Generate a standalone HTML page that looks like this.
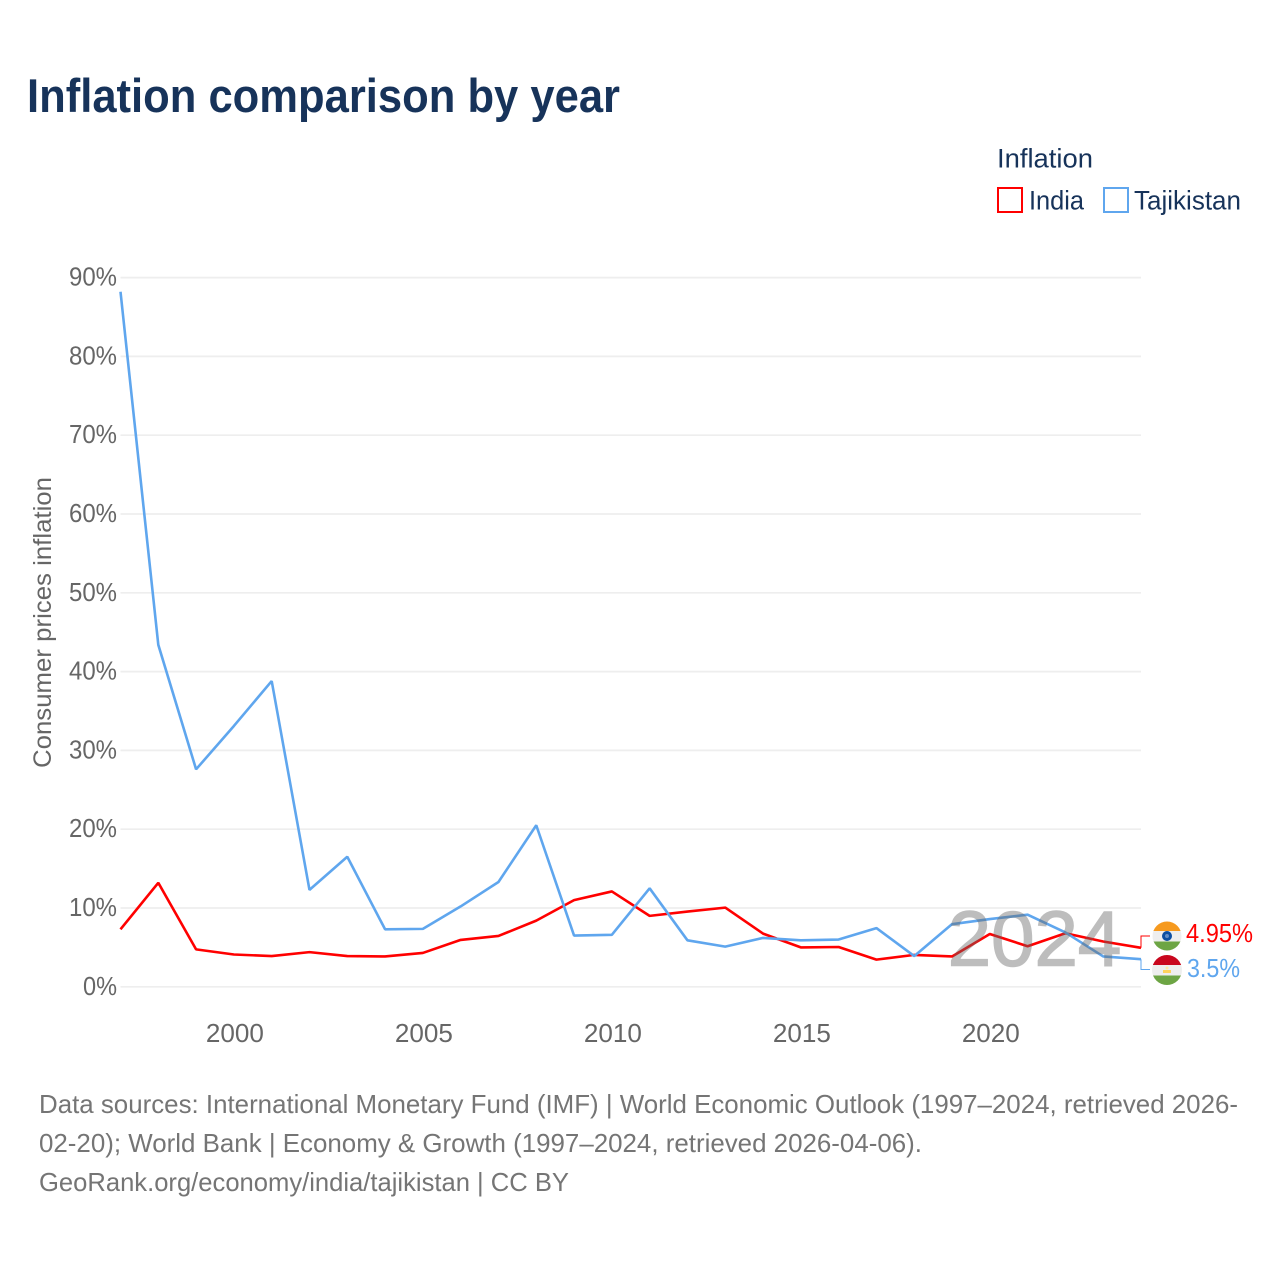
<!DOCTYPE html>
<html lang="en">
<head>
<meta charset="utf-8">
<title>Inflation comparison by year</title>
<style>
html,body{margin:0;padding:0;background:#fff;}
svg{display:block;font-family:"Liberation Sans",sans-serif;}
</style>
</head>
<body>
<svg id="chart" xmlns="http://www.w3.org/2000/svg" width="1280" height="1280" viewBox="0 0 1280 1280">
  <rect x="0" y="0" width="1280" height="1280" fill="#ffffff"/>
  <text x="27" y="112" font-size="47" font-weight="bold" fill="#17335a" textLength="593" lengthAdjust="spacingAndGlyphs">Inflation comparison by year</text>

  <g>
    <text x="997" y="167.500" font-size="27" fill="#17335a" textLength="96" lengthAdjust="spacingAndGlyphs">Inflation</text>
    <g>
      <rect x="998" y="188" width="24" height="24" fill="#fff" stroke="#ff0000" stroke-width="2"/>
      <text x="1029" y="209.500" font-size="27" fill="#17335a" textLength="55" lengthAdjust="spacingAndGlyphs">India</text>
    </g>
    <g>
      <rect x="1104" y="188" width="24" height="24" fill="#fff" stroke="#5fa6ee" stroke-width="2"/>
      <text x="1134" y="209.500" font-size="27" fill="#17335a" textLength="107" lengthAdjust="spacingAndGlyphs">Tajikistan</text>
    </g>
  </g>

  <g id="grid"></g>
  <g id="yLabels"></g>
  <g id="xLabels"></g>
  <text transform="translate(51,622.5) rotate(-90)" text-anchor="middle" font-size="25" fill="#666666" textLength="291" lengthAdjust="spacingAndGlyphs">Consumer prices inflation</text>
  <g id="series"></g>
  <g id="connectors"></g>

  <text x="1034.5" y="965.5" text-anchor="middle" font-size="78" fill="rgb(100,100,100)" stroke="rgb(100,100,100)" stroke-width="1.5" opacity="0.42">2024</text>

  <defs>
    <clipPath id="clip-in"><circle cx="1167" cy="936" r="14.5"/></clipPath>
    <clipPath id="clip-tj"><circle cx="1167" cy="970" r="15"/></clipPath>
  </defs>
  <g clip-path="url(#clip-in)">
    <rect x="1152" y="921" width="30" height="10" fill="#f69a1f"/>
    <rect x="1152" y="931" width="30" height="10.500" fill="#eeeeee"/>
    <rect x="1152" y="941.500" width="30" height="10" fill="#6da544"/>
    <circle cx="1167" cy="936" r="5" fill="#0b4ea2"/>
    <circle cx="1167" cy="936" r="2" fill="#5f8cc6"/>
  </g>
  <g clip-path="url(#clip-tj)">
    <rect x="1152" y="955" width="30" height="10" fill="#c9071e"/>
    <rect x="1152" y="965" width="30" height="10.500" fill="#eeeeee"/>
    <rect x="1152" y="975.500" width="30" height="10" fill="#6da544"/>
    <rect x="1163" y="970" width="8" height="3" fill="#ffd35c"/>
    <circle cx="1167" cy="968" r="1.500" fill="#ffe9a8"/>
  </g>
  <text id="labelIndia" x="1186" y="942" font-size="26" fill="#ff0000" textLength="67" lengthAdjust="spacingAndGlyphs"></text>
  <text id="labelTaj" x="1187" y="977" font-size="26" fill="#5fa6ee" textLength="53" lengthAdjust="spacingAndGlyphs"></text>

  <g font-size="26" fill="#757575">
    <text x="39" y="1113" textLength="1199" lengthAdjust="spacingAndGlyphs">Data sources: International Monetary Fund (IMF) | World Economic Outlook (1997–2024, retrieved 2026-</text>
    <text x="39" y="1152" textLength="883" lengthAdjust="spacingAndGlyphs">02-20); World Bank | Economy &amp; Growth (1997–2024, retrieved 2026-04-06).</text>
    <text x="39" y="1191" textLength="530" lengthAdjust="spacingAndGlyphs">GeoRank.org/economy/india/tajikistan | CC BY</text>
  </g>
</svg>
<script>
const years = [1997,1998,1999,2000,2001,2002,2003,2004,2005,2006,2007,2008,2009,2010,2011,2012,2013,2014,2015,2016,2017,2018,2019,2020,2021,2022,2023,2024];
const india = [7.3,13.2,4.75,4.1,3.9,4.4,3.9,3.85,4.3,5.95,6.45,8.4,11.0,12.1,9.0,9.55,10.05,6.75,5.0,5.05,3.45,4.05,3.85,6.7,5.15,6.8,5.75,4.95];
const tajikistan = [88.2,43.4,27.6,33.1,38.8,12.3,16.5,7.3,7.35,10.2,13.3,20.5,6.5,6.6,12.5,5.9,5.1,6.2,5.9,6.0,7.45,3.9,7.95,8.6,9.15,6.9,3.85,3.5];
const yTicks = [0,10,20,30,40,50,60,70,80,90];
const xTicks = [2000,2005,2010,2015,2020];

const NS = 'http://www.w3.org/2000/svg';
const plotLeft = 120.5, plotRight = 1141, plotBottom = 986.8, plotTop = 277.6;
function xScale(year) {
  return plotLeft + (year - years[0]) * (plotRight - plotLeft) / (years[years.length - 1] - years[0]);
}
function yScale(v) {
  return plotBottom - v * (plotBottom - plotTop) / 90;
}
function make(tag, attrs, parent) {
  const el = document.createElementNS(NS, tag);
  for (const k in attrs) el.setAttribute(k, attrs[k]);
  parent.appendChild(el);
  return el;
}

const grid = document.getElementById('grid');
const yLabels = document.getElementById('yLabels');
const xLabels = document.getElementById('xLabels');
yTicks.forEach(function (t) {
  const line = make('line', {x1: plotLeft, x2: plotRight, y1: yScale(t), y2: yScale(t), stroke: '#eeeeee', 'stroke-width': 1.7}, grid);
  
  
  const label = make('text', {x: 117, y: yScale(t) + 8, 'text-anchor': 'end', 'font-size': 26, fill: '#666666', textLength: t === 0 ? 34 : 48, lengthAdjust: 'spacingAndGlyphs'}, yLabels);
  
  
  label.textContent = t + '%';
});
xTicks.forEach(function (t) {
  const label = make('text', {x: xScale(t) + 1, y: 1042, 'text-anchor': 'middle', 'font-size': 26, fill: '#666666', textLength: 58, lengthAdjust: 'spacingAndGlyphs'}, xLabels);
  
  
  label.textContent = t;
});

function linePoints(values) {
  return values.map(function (v, i) { return xScale(years[i]).toFixed(2) + ',' + yScale(v).toFixed(2); }).join(' ');
}
const seriesGroup = document.getElementById('series');
const lineIndia = make('polyline', {points: linePoints(india), fill: 'none', stroke: '#ff0000', 'stroke-width': 2.6, 'stroke-linejoin': 'bevel'}, seriesGroup);


const lineTaj = make('polyline', {points: linePoints(tajikistan), fill: 'none', stroke: '#5fa6ee', 'stroke-width': 2.6, 'stroke-linejoin': 'bevel'}, seriesGroup);



const connectors = document.getElementById('connectors');
const lastI = india[india.length - 1];
const lastT = tajikistan[tajikistan.length - 1];
const connI = make('polyline', {points: plotRight + ',' + yScale(lastI) + ' ' + plotRight + ',936 1150,936', fill: 'none', stroke: '#ff0000', 'stroke-width': 1}, connectors);


const connT = make('polyline', {points: plotRight + ',' + yScale(lastT) + ' ' + plotRight + ',969.500 1150,969.500', fill: 'none', stroke: '#5fa6ee', 'stroke-width': 1}, connectors);



document.getElementById('labelIndia').textContent = lastI + '%';
document.getElementById('labelTaj').textContent = lastT + '%';
</script>
</body>
</html>
